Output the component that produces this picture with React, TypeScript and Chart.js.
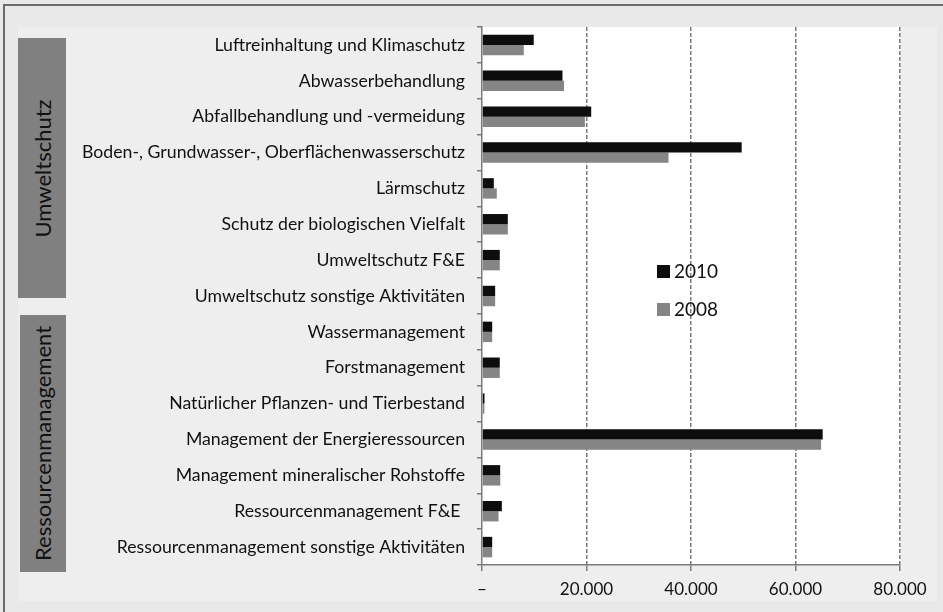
import React, { useEffect, useRef } from "react";
import { Chart, registerables } from "chart.js";

Chart.register(...registerables);

const categories: string[] = [
  "Luftreinhaltung und Klimaschutz",
  "Abwasserbehandlung",
  "Abfallbehandlung und -vermeidung",
  "Boden-, Grundwasser-, Oberflächenwasserschutz",
  "Lärmschutz",
  "Schutz der biologischen Vielfalt",
  "Umweltschutz F&E",
  "Umweltschutz sonstige Aktivitäten",
  "Wassermanagement",
  "Forstmanagement",
  "Natürlicher Pflanzen- und Tierbestand",
  "Management der Energieressourcen",
  "Management mineralischer Rohstoffe",
  "Ressourcenmanagement F&E ",
  "Ressourcenmanagement sonstige Aktivitäten",
];

const values2010: number[] = [9900, 15400, 20900, 49700, 2260, 4940, 3400, 2520, 1950, 3400, 480, 65200, 3480, 3800, 1950];
const values2008: number[] = [8000, 15700, 19700, 35700, 2830, 4940, 3400, 2520, 1950, 3400, 450, 64900, 3500, 3160, 1950];

const seriesLabels: string[] = ["2010", "2008"];
const groupLabels: string[] = ["Umweltschutz", "Ressourcenmanagement"];

const FONT = "Lato, 'Open Sans', sans-serif";

const fmt = (v: number): string => {
  if (v === 0) return "–";
  return String(Math.round(v)).replace(/\B(?=(\d{3})+(?!\d))/g, ".");
};

const whiteArea = {
  id: "whiteArea",
  beforeDraw(chart: any) {
    const { ctx, chartArea } = chart;
    ctx.save();
    ctx.fillStyle = "#ffffff";
    ctx.fillRect(chartArea.left, chartArea.top, chartArea.right - chartArea.left, chartArea.bottom - chartArea.top);
    ctx.restore();
  },
};

export default function App() {
  const ref = useRef<HTMLCanvasElement | null>(null);

  useEffect(() => {
    if (!ref.current) return;
    const chart = new Chart(ref.current, {
      type: "bar",
      data: {
        labels: categories,
        datasets: [
          { label: seriesLabels[0], data: values2010, backgroundColor: "#0d0d0d", barPercentage: 1, categoryPercentage: 0.57 },
          { label: seriesLabels[1], data: values2008, backgroundColor: "#858585", barPercentage: 1, categoryPercentage: 0.57 },
        ],
      },
      options: {
        indexAxis: "y",
        responsive: false,
        animation: false,
        maintainAspectRatio: false,
        layout: { padding: { left: 0, right: 43, top: 27, bottom: 0 } },
        plugins: { legend: { display: false }, tooltip: { enabled: false } },
        scales: {
          x: {
            min: 0,
            max: 80000,
            afterFit: (s: any) => { s.height = 47; },
            ticks: {
              stepSize: 20000,
              color: "#111",
              font: { family: FONT, size: 17 },
              padding: 8,
              callback: (v: any) => fmt(Number(v)),
            },
            grid: {
              color: (c: any) => (c.tick && c.tick.value === 0 ? "rgba(0,0,0,0)" : "#7a7a7a"),
              tickColor: "#7a7a7a",
              tickLength: 6,
              lineWidth: 1.5,
            },
            border: { display: true, color: "#7a7a7a", width: 1.5, dash: [4, 2] },
          },
          y: {
            afterFit: (s: any) => { s.width = 482; },
            ticks: {
              color: "#111",
              font: { family: FONT, size: 17.7 },
              padding: 12,
              autoSkip: false,
            },
            grid: {
              offset: true,
              drawOnChartArea: false,
              tickLength: 5,
              color: "#7a7a7a",
              lineWidth: 1.5,
            },
            border: { display: true, color: "#7a7a7a", width: 1.5 },
          },
        },
      },
      plugins: [whiteArea],
    });
    return () => chart.destroy();
  }, []);

  const groupBox = (top: number, height: number, left: number, width: number, text: string) => (
    <div
      style={{
        position: "absolute",
        left,
        top,
        width,
        height,
        background: "#808080",
        display: "flex",
        alignItems: "center",
        justifyContent: "center",
      }}
    >
      <span
        style={{
          transform: "rotate(-90deg)",
          whiteSpace: "nowrap",
          fontFamily: FONT,
          fontSize: 22,
          color: "#111",
        }}
      >
        {text}
      </span>
    </div>
  );

  const legendItem = (top: number, color: string, text: string) => (
    <div style={{ position: "absolute", left: 657, top, display: "flex", alignItems: "center" }}>
      <div style={{ width: 13, height: 13, background: color, marginRight: 4 }} />
      <span style={{ fontFamily: FONT, fontSize: 19, color: "#111", lineHeight: "20px" }}>{text}</span>
    </div>
  );

  return (
    <div style={{ position: "fixed", left: 0, top: 0, width: 943, height: 612, background: "#e9e9e9", overflow: "hidden" }}>
      <div style={{ position: "absolute", left: 3, top: 4, width: 1000, height: 1000, borderTop: "2px solid #6b6b6b", borderLeft: "2px solid #6b6b6b" }} />
      <div style={{ position: "absolute", left: 18, top: 27, width: 919, height: 574, background: "#eeeeee" }} />
      {groupBox(38, 260, 18, 48, groupLabels[0])}
      {groupBox(315, 257, 20, 46, groupLabels[1])}
      <canvas ref={ref} width={943} height={612} style={{ position: "absolute", left: 0, top: 0 }} />
      {legendItem(261, "#0d0d0d", seriesLabels[0])}
      {legendItem(299, "#858585", seriesLabels[1])}
    </div>
  );
}
